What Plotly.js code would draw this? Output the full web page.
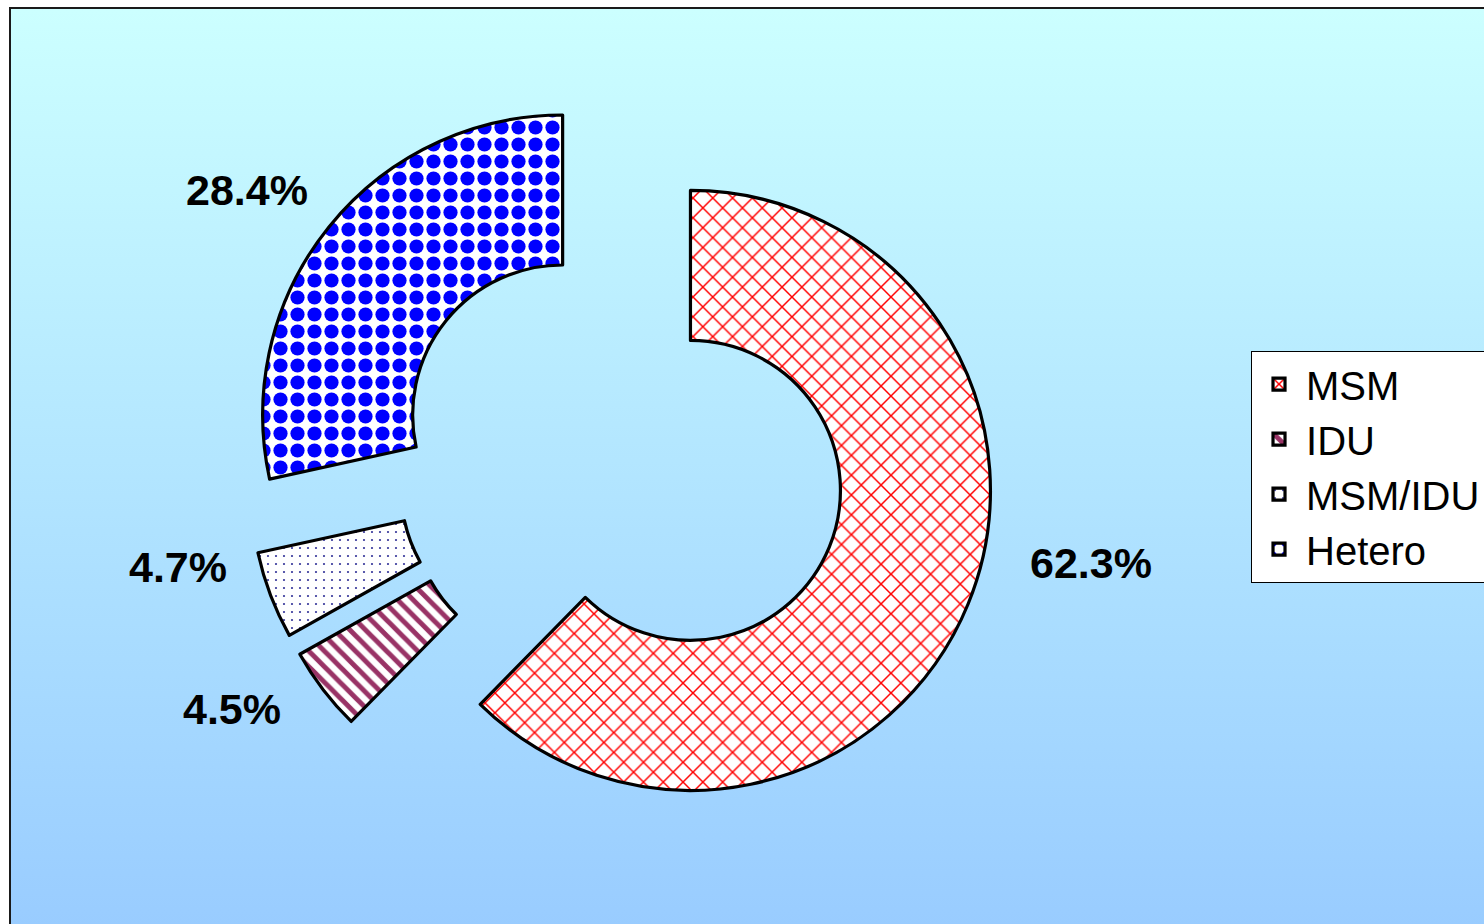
<!DOCTYPE html>
<html>
<head>
<meta charset="utf-8">
<script src="https://cdn.plot.ly/plotly-3.0.1.min.js"></script>
<style>
  html, body { margin: 0; padding: 0; background: #ffffff; }
  #wrap { position: relative; width: 1484px; height: 924px; overflow: hidden; background: #ffffff; }
  #bg { position: absolute; left: 9px; top: 7px; right: -4px; bottom: -4px;
        border-left: 2px solid #1a1a1a; border-top: 2px solid #1a1a1a;
        background: linear-gradient(to bottom, #ccffff 0%, #99ccff 100%); }
  #chart { position: absolute; left: 0; top: 0; width: 1484px; height: 924px; }
</style>
</head>
<body>
<div id="wrap">
  <div id="bg"></div>
  <div id="chart"></div>
</div>
<script>
// ---- data ----
const categories = ["MSM", "IDU", "MSM/IDU", "Hetero"];
const shares = [62.3, 4.5, 4.7, 28.4];

// ---- styles ----
const patternShapes = ["x", "\\", ".", "."];
const patternFg = ["#ff0000", "#993366", "#333399", "#0000ff"];
const patternBg = ["#ffffff", "#ffffff", "#ffffff", "#ffffff"];
const patternSize = [14, 11, 8, 17];
const patternSolidity = [0.2, 0.45, 0.06, 0.55];

// label placement (paper coordinates) per category
const labelX = [0.7352, 0.1563, 0.1199, 0.1664];
const labelY = [0.3907, 0.2327, 0.3864, 0.7944];

const trace = {
  type: "pie",
  labels: categories,
  values: shares,
  sort: false,
  direction: "clockwise",
  rotation: 0,
  hole: 0.5,
  pull: categories.map(() => 0.25),
  textinfo: "none",
  hoverinfo: "label+percent",
  domain: { x: [0.1658, 0.6712], y: [0.0942, 0.9058] },
  marker: {
    colors: patternBg,
    line: { color: "#000000", width: 3.2 },
    pattern: {
      shape: patternShapes,
      fgcolor: patternFg,
      bgcolor: patternBg,
      size: patternSize,
      solidity: patternSolidity,
      fgopacity: 1,
      fillmode: "replace"
    }
  }
};

const annotations = categories.map((c, i) => ({
  xref: "paper", yref: "paper",
  x: labelX[i], y: labelY[i],
  xanchor: "center", yanchor: "middle",
  text: "<b>" + shares[i].toFixed(1) + "%</b>",
  showarrow: false,
  font: { family: "Liberation Sans, Arial, sans-serif", size: 43, color: "#000000" }
}));

const layout = {
  width: 1484, height: 924,
  margin: { l: 0, r: 0, t: 0, b: 0, autoexpand: false },
  paper_bgcolor: "rgba(0,0,0,0)",
  plot_bgcolor: "rgba(0,0,0,0)",
  showlegend: true,
  legend: {
    x: 0.843, xanchor: "left",
    y: 0.495, yanchor: "middle",
    bgcolor: "#ffffff",
    bordercolor: "#000000",
    borderwidth: 1,
    itemwidth: 44,
    traceorder: "normal",
    font: { family: "Liberation Sans, Arial, sans-serif", size: 40, color: "#000000" }
  },
  annotations: annotations
};

Plotly.newPlot("chart", [trace], layout, { displayModeBar: false, staticPlot: true });
</script>
</body>
</html>
